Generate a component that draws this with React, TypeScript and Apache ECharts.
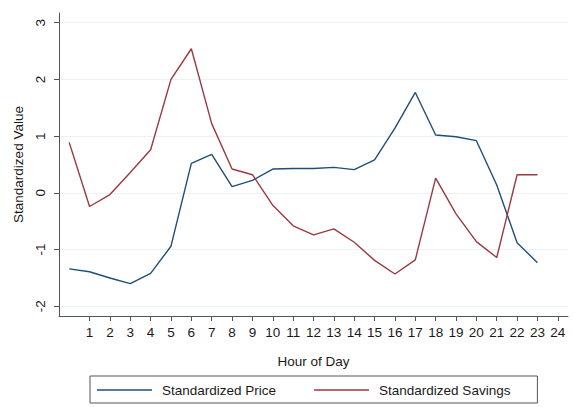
import React, { useEffect, useRef } from "react";
import * as echarts from "echarts";

const hours = [0, 1, 2, 3, 4, 5, 6, 7, 8, 9, 10, 11, 12, 13, 14, 15, 16, 17, 18, 19, 20, 21, 22, 23];
const priceValues = [
  -1.34, -1.39, -1.5, -1.6, -1.42, -0.94, 0.52, 0.68, 0.11, 0.22, 0.42, 0.43,
  0.43, 0.45, 0.41, 0.58, 1.14, 1.77, 1.02, 0.99, 0.92, 0.14, -0.88, -1.23,
];
const savingsValues = [
  0.89, -0.24, -0.03, 0.36, 0.76, 2.0, 2.54, 1.22, 0.42, 0.32, -0.22, -0.58,
  -0.74, -0.635, -0.87, -1.19, -1.43, -1.18, 0.26, -0.37, -0.86, -1.14, 0.32, 0.32,
];
const xTicks = [1, 2, 3, 4, 5, 6, 7, 8, 9, 10, 11, 12, 13, 14, 15, 16, 17, 18, 19, 20, 21, 22, 23, 24];
const yTicks = [-2, -1, 0, 1, 2, 3];

const FONT = "'Liberation Sans', Arial, Helvetica, sans-serif";
const FS = 13.5;

export default function App() {
  const ref = useRef<HTMLDivElement>(null);
  useEffect(() => {
    const chart = echarts.init(ref.current!, null, { renderer: "svg" });
    chart.setOption({
      animation: false,
      backgroundColor: "#ffffff",
      textStyle: { fontFamily: FONT, color: "#1a1a1a" },
      grid: { left: 59, right: 7, top: 13, bottom: 91, containLabel: false },
      legend: {
        show: true,
        left: 90,
        top: 376,
        orient: "horizontal",
        icon: "rect",
        itemWidth: 55,
        itemHeight: 1.5,
        itemGap: 38,
        padding: [7, 27, 6, 7],
        borderColor: "#555555",
        borderWidth: 1,
        textStyle: { fontSize: FS, color: "#1a1a1a", fontFamily: FONT, padding: [0, 0, 0, 5] },
        data: ["Standardized Price", "Standardized Savings"],
      },
      xAxis: {
        type: "value",
        min: -0.5,
        max: 24.5,
        name: "Hour of Day",
        nameLocation: "middle",
        nameGap: 38,
        nameTextStyle: { fontSize: FS, color: "#1a1a1a", fontFamily: FONT },
        axisLine: { show: true, onZero: false, lineStyle: { color: "#555555", width: 1 } },
        axisTick: { show: true, length: 5, customValues: xTicks, lineStyle: { color: "#555555" } },
        axisLabel: { customValues: xTicks, fontSize: FS, margin: 9, color: "#1a1a1a", fontFamily: FONT },
        splitLine: { show: false },
      },
      yAxis: {
        type: "value",
        min: -2.17,
        max: 3.17,
        name: "Standardized Value",
        nameLocation: "middle",
        nameGap: 32,
        nameTextStyle: { fontSize: FS, color: "#1a1a1a", fontFamily: FONT },
        axisLine: { show: true, onZero: false, lineStyle: { color: "#555555", width: 1 } },
        axisTick: { show: true, length: 5, customValues: yTicks, lineStyle: { color: "#555555" } },
        axisLabel: { customValues: yTicks, rotate: 90, fontSize: FS, margin: 12, color: "#1a1a1a", fontFamily: FONT },
        splitLine: { show: true, lineStyle: { color: "#eaf2f3", width: 1 } },
      },
      series: [
        {
          name: "Standardized Price",
          type: "line",
          symbol: "none",
          showSymbol: false,
          color: "#1f4e79",
          lineStyle: { width: 1.4, color: "#1f4e79" },
          data: hours.map((h, i) => [h, priceValues[i]]),
        },
        {
          name: "Standardized Savings",
          type: "line",
          symbol: "none",
          showSymbol: false,
          color: "#983a41",
          lineStyle: { width: 1.4, color: "#983a41" },
          data: hours.map((h, i) => [h, savingsValues[i]]),
        },
      ],
    });
    return () => chart.dispose();
  }, []);
  return <div ref={ref} style={{ position: "absolute", left: 0, top: 0, width: 575, height: 407 }} />;
}
